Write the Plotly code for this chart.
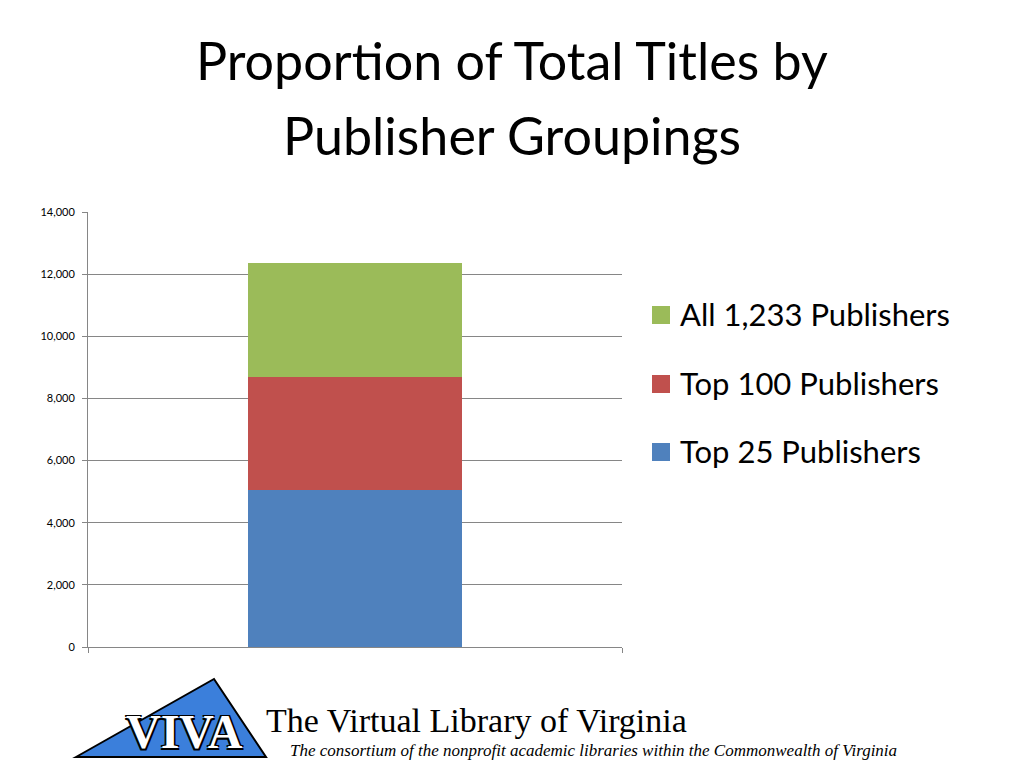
import plotly.graph_objects as go

# ---- data ----
categories = ["Titles"]
series_names = ["Top 25 Publishers", "Top 100 Publishers", "All 1,233 Publishers"]
series_values = [[5050], [3640], [3655]]
series_colors = ["#4F81BD", "#C0504D", "#9BBB59"]
y_ticks = [0, 2000, 4000, 6000, 8000, 10000, 12000, 14000]
title_lines = ["Proportion of Total Titles by", "Publisher Groupings"]
footer_title = "The Virtual Library of Virginia"
footer_sub = "The consortium of the nonprofit academic libraries within the Commonwealth of Virginia"
logo_text = "VIVA"

OFF = 8  # default page body margin
W, H = 1024 - 2 * OFF, 768 - 2 * OFF
L, R, T, B = 88, 622, 212, 647  # plot area in page pixels


def px(x):
    return (x - L) / (R - L)


def py(y):
    return (B - y) / (B - T)


fig = go.Figure()
for name, vals, col in zip(series_names, series_values, series_colors):
    fig.add_trace(go.Bar(
        x=[0.5] * len(vals), y=vals, name=name, width=0.4,
        marker=dict(color=col, line=dict(width=0)),
        showlegend=False, hovertemplate=name + ": %{y:,}<extra></extra>",
    ))

annotations = []
shapes = []

# title
for line, yc in zip(title_lines, [60, 135]):
    annotations.append(dict(
        text=line, xref="paper", yref="paper", x=px(512), y=py(yc),
        xanchor="center", yanchor="middle", showarrow=False,
        font=dict(family="Lato", size=52, color="#000000"),
    ))

# legend (top entry is the last series)
legend_y = [315, 384, 452]
for (name, col), yc in zip(list(zip(series_names, series_colors))[::-1], legend_y):
    shapes.append(dict(type="rect", xref="paper", yref="paper",
                       x0=px(652), x1=px(670), y0=py(yc + 9), y1=py(yc - 9),
                       fillcolor=col, line=dict(width=0)))
    annotations.append(dict(
        text=name, xref="paper", yref="paper", x=px(678), y=py(yc - 1),
        xanchor="left", yanchor="middle", showarrow=False,
        font=dict(family="Lato", size=31, color="#000000"),
    ))

# footer logo triangle
shapes.append(dict(
    type="path", xref="paper", yref="paper",
    path=f"M {px(76)} {py(757)} L {px(214)} {py(679)} L {px(266)} {py(757)} Z",
    fillcolor="#3B7FDB", line=dict(color="#000000", width=2),
))
annotations.append(dict(
    text="<b>" + logo_text + "</b>", xref="paper", yref="paper", x=px(184), y=py(731),
    xanchor="center", yanchor="middle", showarrow=False,
    font=dict(family="Liberation Serif", size=48, color="#FFFFFF",
              shadow="-1.5px -1.5px 0 #000, 1.5px -1.5px 0 #000, -1.5px 1.5px 0 #000, 1.5px 1.5px 0 #000"),
))
annotations.append(dict(
    text=footer_title, xref="paper", yref="paper", x=px(264), y=py(720),
    xanchor="left", yanchor="middle", showarrow=False,
    font=dict(family="Liberation Serif", size=34, color="#000000"),
))
annotations.append(dict(
    text="<i>" + footer_sub + "</i>", xref="paper", yref="paper", x=px(288), y=py(750),
    xanchor="left", yanchor="middle", showarrow=False,
    font=dict(family="Liberation Serif", size=17, color="#000000"),
))

fig.update_layout(
    width=W, height=H,
    margin=dict(l=L - OFF, r=(W + OFF) - R, t=T - OFF, b=(H + OFF) - B, pad=0),
    barmode="stack",
    paper_bgcolor="#FFFFFF", plot_bgcolor="#FFFFFF",
    showlegend=False,
    annotations=annotations,
    shapes=shapes,
    xaxis=dict(range=[0, 1], showgrid=False, zeroline=False,
               showline=True, linecolor="#868686", linewidth=1,
               tickvals=[0, 1], ticks="outside", ticklen=5, tickcolor="#868686",
               showticklabels=False, fixedrange=True),
    yaxis=dict(range=[0, 14000], tickvals=y_ticks, tickformat=",",
               showgrid=True, gridcolor="#868686", gridwidth=1, zeroline=False,
               showline=True, linecolor="#868686", linewidth=1,
               ticks="outside", ticklen=5, tickcolor="#868686",
               ticklabelstandoff=5,
               tickfont=dict(family="Lato", size=11, color="#000000"),
               fixedrange=True),
)

fig.write_html("out.html")
